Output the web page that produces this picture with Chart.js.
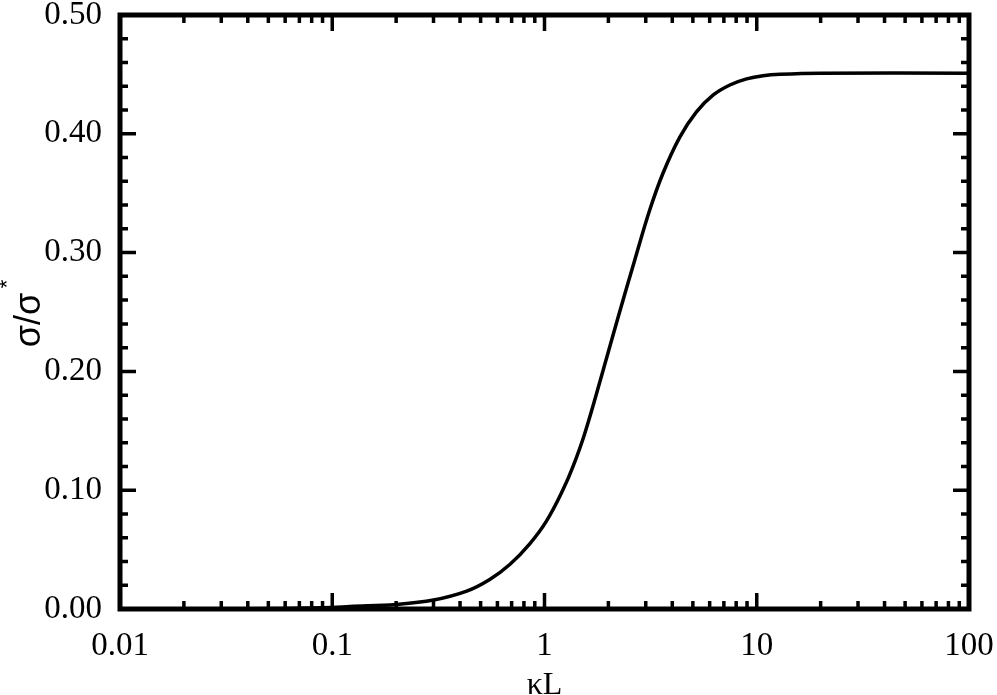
<!DOCTYPE html>
<html>
<head>
<meta charset="utf-8">
<script src="https://cdn.jsdelivr.net/npm/chart.js@4.4.1/dist/chart.umd.min.js"></script>
<style>
  html, body { margin: 0; padding: 0; background: #fff; }
  #wrap { width: 997px; height: 695px; }
</style>
</head>
<body>
<div id="wrap"><canvas id="chart" width="997" height="695"></canvas></div>
<script>
// values
const kappaL = [0.01, 0.03, 0.06, 0.1, 0.121, 0.2, 0.3, 0.43, 0.552, 0.686, 0.852, 1.021, 1.223, 1.363, 1.549, 1.862, 2.25, 2.665, 3.134, 3.62, 4.34, 5.2, 6.24, 7.47, 8.96, 10.7, 12.9, 20, 100];
const sigmaRatio = [0, 0.0001, 0.0005, 0.0013, 0.0021, 0.0038, 0.0075, 0.0150, 0.0248, 0.0374, 0.0549, 0.0740, 0.1005, 0.120, 0.148, 0.197, 0.249, 0.294, 0.336, 0.367, 0.3972, 0.4184, 0.4327, 0.4411, 0.4462, 0.4489, 0.4501, 0.451, 0.451];

const xTickValues = [0.01, 0.1, 1, 10, 100];
const xTickLabels = ['0.01', '0.1', '1', '10', '100'];
const xMinorFactors = [2, 3, 4, 5, 6, 7, 8, 9];
const yMin = 0, yMax = 0.5, yStep = 0.1, yMinorStep = 0.02;

const serif = '"Liberation Serif", "Times New Roman", serif';
const sans = '"Liberation Sans", Arial, sans-serif';

// frame + inward ticks on all four sides, plus axis titles
const frameTicks = {
    id: 'frameTicks',
    afterDraw(chart) {
        const ctx = chart.ctx;
        const a = chart.chartArea;
        const xs = chart.scales.x;
        const ys = chart.scales.y;
        const major = 16, minor = 8;
        ctx.save();
        ctx.strokeStyle = '#000';
        ctx.lineCap = 'butt';
        ctx.lineWidth = 3.5;
        ctx.beginPath();
        xTickValues.forEach((v, i) => {
            const px = xs.getPixelForValue(v);
            ctx.moveTo(px, a.bottom); ctx.lineTo(px, a.bottom - major);
            ctx.moveTo(px, a.top); ctx.lineTo(px, a.top + major);
            if (i < xTickValues.length - 1) {
                xMinorFactors.forEach(f => {
                    const mx = xs.getPixelForValue(v * f);
                    ctx.moveTo(mx, a.bottom); ctx.lineTo(mx, a.bottom - minor);
                    ctx.moveTo(mx, a.top); ctx.lineTo(mx, a.top + minor);
                });
            }
        });
        const nMinor = Math.round((yMax - yMin) / yMinorStep);
        const every = Math.round(yStep / yMinorStep);
        for (let k = 0; k <= nMinor; k++) {
            const py = ys.getPixelForValue(yMin + k * yMinorStep);
            const len = (k % every === 0) ? major : minor;
            ctx.moveTo(a.left, py); ctx.lineTo(a.left + len, py);
            ctx.moveTo(a.right, py); ctx.lineTo(a.right - len, py);
        }
        ctx.stroke();
        ctx.lineWidth = 5;
        ctx.strokeRect(a.left, a.top, a.right - a.left, a.bottom - a.top);

        // axis titles
        ctx.fillStyle = '#000';
        ctx.font = '32px ' + serif;
        ctx.textAlign = 'center';
        ctx.textBaseline = 'alphabetic';
        ctx.fillText('\u03baL', (a.left + a.right) / 2, 694);

        ctx.translate(30, 320);
        ctx.rotate(-Math.PI / 2);
        ctx.font = '36px ' + sans;
        ctx.textBaseline = 'middle';
        ctx.fillText('\u03c3/\u03c3', 0, 0);
        ctx.font = '22px ' + sans;
        ctx.fillText('*', 36, -22);
        ctx.restore();
    }
};

new Chart(document.getElementById('chart'), {
    type: 'line',
    data: {
        datasets: [{
            data: kappaL.map((x, i) => ({ x: x, y: sigmaRatio[i] })),
            borderColor: '#000',
            borderWidth: 3.5,
            pointRadius: 0,
            fill: false,
            tension: 0.4
        }]
    },
    options: {
        responsive: false,
        animation: false,
        devicePixelRatio: 1,
        layout: { padding: { top: 15, right: 28, left: 0, bottom: 0 } },
        plugins: { legend: { display: false }, tooltip: { enabled: false } },
        scales: {
            x: {
                type: 'logarithmic',
                min: 0.01,
                max: 100,
                grid: { display: false },
                border: { display: false },
                afterBuildTicks: scale => { scale.ticks = xTickValues.map(v => ({ value: v })); },
                afterFit: scale => { scale.height = 86; scale.paddingLeft = 0; scale.paddingRight = 0; },
                ticks: {
                    color: '#000',
                    padding: 10,
                    maxRotation: 0,
                    autoSkip: false,
                    font: { family: serif, size: 33 },
                    callback: (v, i) => xTickLabels[i]
                }
            },
            y: {
                min: yMin,
                max: yMax,
                grid: { display: false },
                border: { display: false },
                afterFit: scale => { scale.width = 120; scale.paddingTop = 0; scale.paddingBottom = 0; },
                ticks: {
                    color: '#000',
                    padding: 10,
                    stepSize: yStep,
                    font: { family: serif, size: 33 },
                    callback: v => v.toFixed(2)
                }
            }
        }
    },
    plugins: [frameTicks]
});
</script>
</body>
</html>
